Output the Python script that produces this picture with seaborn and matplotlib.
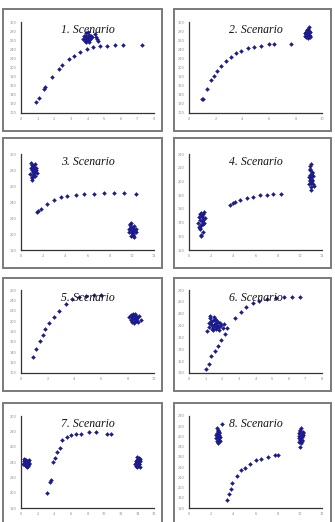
import numpy as np
import pandas as pd
import matplotlib
matplotlib.use("Agg")
import matplotlib.pyplot as plt
from matplotlib.patches import Rectangle
import seaborn as sns

# ---- data (per scenario: curve + clusters) ----
titles = ["1. Scenario", "2. Scenario", "3. Scenario", "4. Scenario",
          "5. Scenario", "6. Scenario", "7. Scenario", "8. Scenario"]

s1_curve_x = [0.9, 1.06, 1.36, 1.46, 1.86, 2.26, 2.46, 2.86, 3.16, 3.56, 3.96, 4.36, 4.76, 5.16, 5.66, 6.16, 7.26]
s1_curve_y = [125, 133, 152, 157, 180, 196, 205, 218, 225, 235, 240, 244, 247, 248, 249, 250, 250]
s1_clu_x = [3.70, 3.78, 3.85, 3.9, 3.95, 4.0, 4.05, 4.1, 4.15, 4.2, 3.82, 3.92, 4.02, 4.12, 4.22, 4.3, 4.45, 4.6, 4.62, 3.88, 3.98, 4.08, 4.18, 4.5]
s1_clu_y = [262, 270, 258, 275, 265, 268, 260, 272, 263, 267, 264, 257, 278, 261, 270, 266, 273, 262, 258, 269, 263, 256, 265, 268]

s2_curve_x = [1.0, 1.08, 1.39, 1.69, 1.9, 2.14, 2.39, 2.77, 3.15, 3.53, 3.9, 4.4, 4.9, 5.4, 6.0, 6.4, 7.7]
s2_curve_y = [130, 131, 152, 173, 181, 193, 203, 215, 224, 231, 236, 242, 245, 248, 251, 252, 252]
s2_clu_x = [8.72, 8.78, 8.82, 8.86, 8.9, 8.94, 8.98, 9.02, 9.06, 9.1, 8.8, 8.88, 8.96, 9.04, 9.12, 8.84, 8.92, 9.0, 9.08, 8.75, 9.05, 8.98]
s2_clu_y = [270, 278, 266, 282, 274, 269, 285, 276, 271, 279, 273, 277, 268, 281, 270, 283, 275, 272, 267, 276, 290, 265]

s3_curve_x = [1.4, 1.5, 1.76, 2.36, 2.97, 3.58, 4.18, 4.94, 5.7, 6.6, 7.5, 8.4, 9.3, 10.4]
s3_curve_y = [227, 229, 231, 238, 243, 246, 248, 249, 250, 250, 251, 251, 251, 250]
s3_clu1_x = [0.85, 0.9, 0.95, 1.0, 1.05, 1.1, 1.15, 1.2, 1.25, 1.3, 1.35, 1.4, 0.92, 1.02, 1.12, 1.22, 1.32, 1.0, 1.18, 1.28, 0.98, 1.08]
s3_clu1_y = [275, 282, 270, 286, 278, 274, 281, 277, 283, 272, 280, 276, 289, 271, 285, 279, 282, 268, 276, 287, 280, 273]
s3_clu2_x = [9.7, 9.78, 9.85, 9.9, 9.95, 10.0, 10.05, 10.1, 10.15, 10.2, 10.3, 10.4, 9.82, 9.92, 10.02, 10.12, 10.22, 9.88, 10.08, 10.35, 9.98, 10.18]
s3_clu2_y = [206, 202, 211, 198, 205, 208, 203, 200, 207, 196, 204, 206, 213, 209, 202, 199, 205, 214, 197, 203, 201, 210]

s4_curve_x = [3.7, 4.0, 4.14, 4.6, 5.2, 5.8, 6.4, 7.0, 7.6, 8.3]
s4_curve_y = [183, 184, 185, 186.5, 188, 189, 190, 190, 190.5, 191]
s4_clu1_x = [0.8, 0.88, 0.95, 1.0, 1.05, 1.1, 1.15, 1.2, 1.25, 1.3, 1.35, 1.42, 0.9, 1.02, 1.12, 1.22, 1.32, 0.98, 1.18, 1.08, 1.28, 1.12]
s4_clu1_y = [170, 174, 166, 172, 177, 168, 171, 175, 163, 169, 178, 173, 167, 176, 161, 172, 170, 165, 174, 160, 176, 168]
s4_clu2_x = [10.82, 10.88, 10.92, 10.96, 11.0, 11.04, 11.08, 11.12, 11.16, 11.2, 10.9, 10.98, 11.06, 11.14, 10.86, 10.94, 11.02, 11.1, 11.25, 11.0, 11.05, 10.95]
s4_clu2_y = [198, 205, 201, 209, 196, 203, 207, 200, 204, 198, 211, 194, 206, 201, 203, 208, 199, 205, 197, 213, 202, 200]

s5_curve_x = [0.9, 1.16, 1.41, 1.67, 1.84, 2.1, 2.47, 2.85, 3.36, 3.86, 4.37, 4.87, 5.5, 6.0]
s5_curve_y = [130, 146, 162, 174, 184, 197, 208, 219, 233, 242, 246, 248, 250, 250]
s5_clu_x = [8.15, 8.25, 8.3, 8.38, 8.45, 8.5, 8.55, 8.6, 8.65, 8.7, 8.78, 8.85, 8.35, 8.48, 8.58, 8.68, 8.75, 8.42, 8.62, 8.52, 9.05, 8.28]
s5_clu_y = [208, 203, 212, 199, 206, 210, 201, 214, 204, 207, 198, 209, 205, 196, 211, 202, 206, 213, 200, 208, 203, 210]

s6_curve_x = [1.05, 1.19, 1.35, 1.55, 1.75, 1.94, 2.14, 2.3, 2.74, 3.1, 3.43, 3.83, 4.23, 4.72, 5.22, 5.71, 6.2, 6.7]
s6_curve_y = [136, 145, 158, 167, 176, 186, 196, 206, 223, 233, 241, 248, 252, 255, 257, 258, 259, 259]
s6_clu_x = [1.1, 1.18, 1.22, 1.28, 1.32, 1.36, 1.4, 1.45, 1.5, 1.55, 1.6, 1.65, 1.7, 1.75, 1.8, 1.88, 1.95, 2.05, 2.12,
            1.25, 1.42, 1.58, 1.72, 1.3, 1.48, 1.62, 1.78, 1.38, 1.52, 1.68]
s6_clu_y = [201, 215, 208, 222, 212, 205, 218, 210, 225, 213, 204, 219, 209, 216, 207, 214, 211, 206, 213,
            226, 203, 221, 210, 217, 207, 215, 203, 211, 219, 208]

s7_curve_x = [3.15, 3.47, 3.55, 3.87, 4.08, 4.36, 4.68, 4.97, 5.5, 5.98, 6.6, 7.2, 8.2, 9.0, 10.3, 10.8]
s7_curve_y = [200, 214, 216, 240, 245, 253, 258, 269, 272, 275, 277, 277, 279, 279, 277, 277]
s7_clu1_x = [0.3, 0.38, 0.45, 0.5, 0.55, 0.6, 0.65, 0.7, 0.75, 0.8, 0.88, 0.95, 1.02, 0.42, 0.58, 0.72, 0.85, 0.52, 0.68, 0.92]
s7_clu1_y = [238, 241, 236, 243, 239, 235, 242, 238, 240, 236, 241, 238, 239, 244, 237, 240, 235, 241, 234, 242]
s7_clu2_x = [13.72, 13.8, 13.86, 13.92, 13.98, 14.04, 14.1, 14.16, 14.22, 14.28, 14.35, 13.9, 14.0, 14.12, 14.2, 13.84, 13.96, 14.08, 14.3, 14.14]
s7_clu2_y = [237, 241, 235, 243, 239, 236, 242, 238, 240, 234, 244, 246, 233, 240, 237, 239, 242, 236, 241, 245]

s8_curve_x = [3.39, 3.6, 3.78, 3.9, 4.29, 4.68, 5.04, 5.49, 6.0, 6.54, 7.14, 7.74, 8.04]
s8_curve_y = [188, 194, 199, 204, 211, 217, 219, 223, 227, 228, 230, 232, 232]
s8_clu1_x = [2.45, 2.5, 2.55, 2.6, 2.65, 2.7, 2.75, 2.8, 2.52, 2.62, 2.72, 2.58, 2.68, 2.48, 2.78, 2.56, 2.66, 2.98, 2.6, 2.7]
s8_clu1_y = [248, 252, 246, 255, 250, 247, 253, 249, 258, 244, 251, 256, 248, 251, 246, 253, 249, 262, 245, 254]
s8_clu2_x = [9.88, 9.95, 10.0, 10.05, 10.1, 10.15, 10.2, 10.25, 10.3, 9.92, 10.02, 10.12, 10.22, 9.98, 10.08, 10.18, 10.28, 10.06, 9.9, 10.16]
s8_clu2_y = [250, 253, 247, 255, 249, 252, 246, 254, 251, 248, 256, 244, 250, 252, 258, 247, 253, 240, 245, 249]

# axis ticks per scenario
x_ticks = [np.arange(0, 9, 1), np.arange(0, 11, 2), np.arange(0, 13, 2), np.arange(0, 13, 2),
           np.arange(0, 11, 2), np.arange(0, 9, 1), np.arange(0, 17, 2), np.arange(0, 13, 2)]
y_ticks = [np.arange(100, 301, 20), np.arange(100, 301, 20), np.arange(180, 301, 20), np.arange(150, 221, 10),
           np.arange(100, 261, 20), np.arange(130, 271, 20), np.arange(180, 301, 20), np.arange(180, 271, 10)]

series = [
    (s1_curve_x + s1_clu_x, s1_curve_y + s1_clu_y),
    (s2_curve_x + s2_clu_x, s2_curve_y + s2_clu_y),
    (s3_curve_x + s3_clu1_x + s3_clu2_x, s3_curve_y + s3_clu1_y + s3_clu2_y),
    (s4_curve_x + s4_clu1_x + s4_clu2_x, s4_curve_y + s4_clu1_y + s4_clu2_y),
    (s5_curve_x + s5_clu_x, s5_curve_y + s5_clu_y),
    (s6_curve_x + s6_clu_x, s6_curve_y + s6_clu_y),
    (s7_curve_x + s7_clu1_x + s7_clu2_x, s7_curve_y + s7_clu1_y + s7_clu2_y),
    (s8_curve_x + s8_clu1_x + s8_clu2_x, s8_curve_y + s8_clu1_y + s8_clu2_y),
]

# ---- layout (pixels, top-left origin) ----
W, H = 335, 522
col_frame = [(3, 162), (174, 331)]
col_axes = [(21, 154), (189, 322)]
row_frame = [(9, 131), (138, 268), (278, 391), (403, 530)]
row_axes = [(22, 113), (154, 250), (290, 373), (416, 508)]

sns.set_style("white")
plt.rcParams["font.family"] = "DejaVu Sans"
fig = plt.figure(figsize=(W / 100, H / 100), dpi=100)
color_dot = "#1c1c8c"

for i in range(8):
    r, c = divmod(i, 2)
    fx0, fx1 = col_frame[c]
    fy0, fy1 = row_frame[r]
    fig.patches.append(Rectangle((fx0 / W, 1 - fy1 / H), (fx1 - fx0) / W, (fy1 - fy0) / H,
                                 transform=fig.transFigure, fill=False,
                                 edgecolor="#7a7a7a", linewidth=1.4))
    ax0, ax1 = col_axes[c]
    ay0, ay1 = row_axes[r]
    ax = fig.add_axes([ax0 / W, 1 - ay1 / H, (ax1 - ax0) / W, (ay1 - ay0) / H])
    xs, ys = series[i]
    df = pd.DataFrame({"x": xs, "y": ys})
    sns.scatterplot(data=df, x="x", y="y", ax=ax, marker="D", s=4,
                    color=color_dot, edgecolor=color_dot, linewidth=0.3)
    xt, yt = x_ticks[i], y_ticks[i]
    ax.set_xlim(xt[0], xt[-1])
    ax.set_ylim(yt[0], yt[-1])
    ax.set_xticks(xt)
    ax.set_yticks(yt)
    ax.tick_params(labelsize=2.5, colors="#333333", labelcolor="#888888",
                   length=2, width=0.6, direction="inout", pad=2)
    ax.set_xlabel("")
    ax.set_ylabel("")
    for s in ["top", "right"]:
        ax.spines[s].set_visible(False)
    for s in ["left", "bottom"]:
        ax.spines[s].set_color("#333333")
        ax.spines[s].set_linewidth(0.9)
    ax.patch.set_alpha(0)
    ax.text(0.5, 0.98, titles[i], transform=ax.transAxes, ha="center", va="top",
            fontsize=8.5, style="italic", family="Liberation Serif", color="#111111")

fig.savefig("out.png", dpi=100)
